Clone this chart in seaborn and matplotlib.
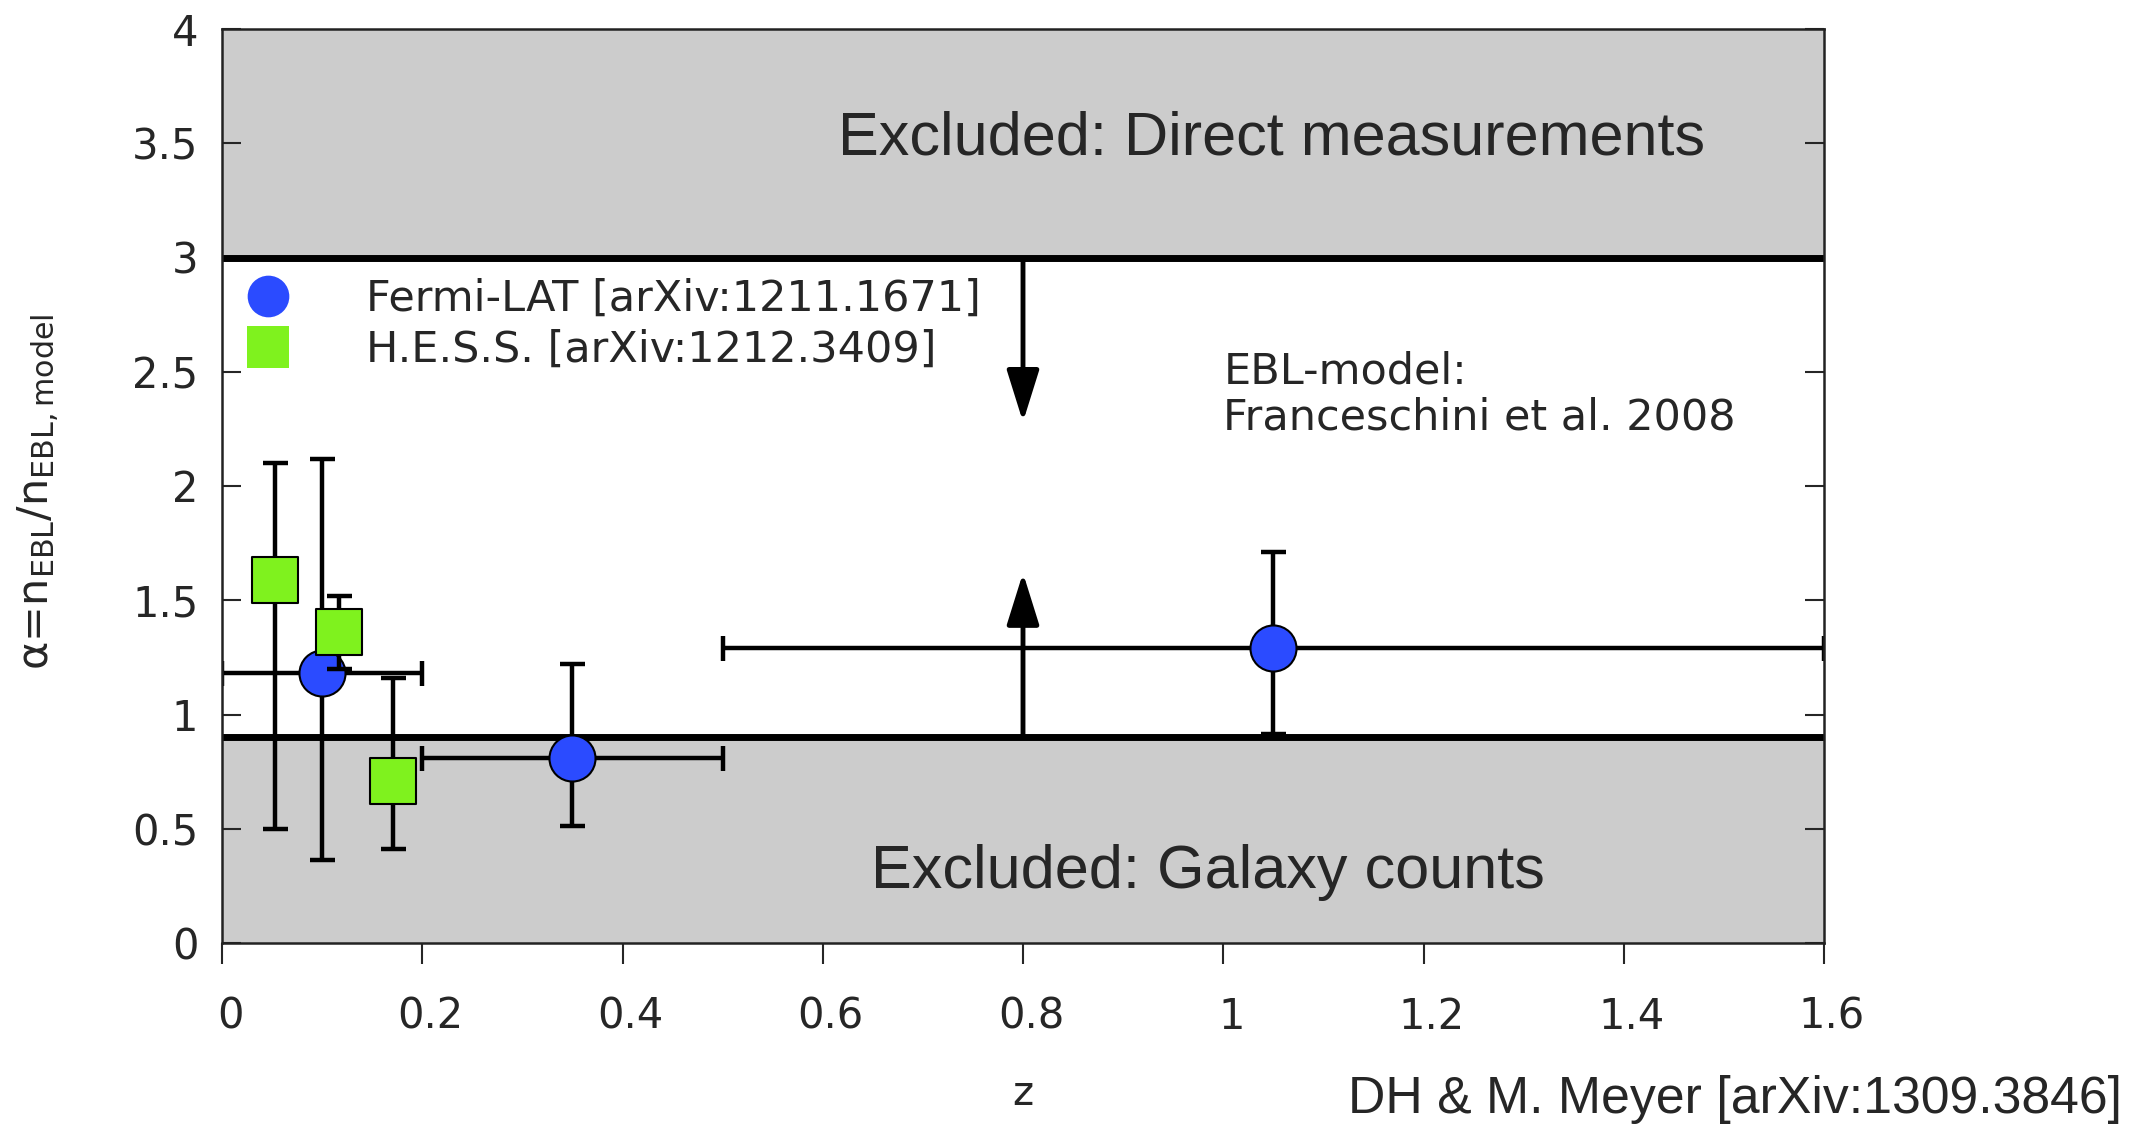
import matplotlib
matplotlib.use("Agg")
import matplotlib.pyplot as plt
import matplotlib.transforms as mtransforms
from matplotlib.lines import Line2D
import numpy as np
import pandas as pd
import seaborn as sns

# ---------------- data ----------------
fermi_z = [0.10, 0.35, 1.05]
fermi_alpha = [1.18, 0.81, 1.29]
fermi_z_lo = [0.0, 0.20, 0.50]
fermi_z_hi = [0.20, 0.50, 1.60]
fermi_alpha_lo = [0.365, 0.51, 0.915]
fermi_alpha_hi = [2.12, 1.22, 1.71]

hess_z = [0.053, 0.117, 0.171]
hess_alpha = [1.59, 1.36, 0.71]
hess_alpha_lo = [0.50, 1.20, 0.41]
hess_alpha_hi = [2.10, 1.52, 1.16]

lower_limit = 0.9
upper_limit = 3.0
arrow_z = 0.8
arrow_down_tip = 2.28
arrow_up_tip = 1.62

x_ticks = [0, 0.2, 0.4, 0.6, 0.8, 1.0, 1.2, 1.4, 1.6]
x_tick_labels = ["0", "0.2", "0.4", "0.6", "0.8", "1", "1.2", "1.4", "1.6"]
y_ticks = [0, 0.5, 1, 1.5, 2, 2.5, 3, 3.5, 4]
y_tick_labels = ["0", "0.5", "1", "1.5", "2", "2.5", "3", "3.5", "4"]

fermi_label = "Fermi-LAT [arXiv:1211.1671]"
hess_label = "H.E.S.S. [arXiv:1212.3409]"

BLUE = "#2b4bff"
GREEN = "#7ff21e"
GRAY = "#cccccc"

# ---------------- style ----------------
sns.set_style("ticks")
plt.rcParams["font.family"] = ["DejaVu Sans"]
plt.rcParams["mathtext.fontset"] = "dejavusans"

fig = plt.figure(figsize=(21.39, 11.27), dpi=100)
ax = fig.add_axes([222 / 2139, 1 - 943 / 1127, 1602 / 2139, 914 / 1127])

ax.set_xlim(0, 1.6)
ax.set_ylim(0, 4)

# excluded regions
ax.axhspan(0, lower_limit, color=GRAY, zorder=0, lw=0)
ax.axhspan(upper_limit, 4, color=GRAY, zorder=0, lw=0)
ax.axhline(lower_limit, color="black", lw=5, zorder=2)
ax.axhline(upper_limit, color="black", lw=5, zorder=2)

# arrows
arrow_kw = dict(arrowstyle="-|>,head_length=3.2,head_width=1.0", color="black",
                lw=3.5, shrinkA=0, shrinkB=0, joinstyle="round", capstyle="butt")
ax.annotate("", xy=(arrow_z, arrow_down_tip), xytext=(arrow_z, upper_limit),
            arrowprops=arrow_kw, zorder=3)
ax.annotate("", xy=(arrow_z, arrow_up_tip), xytext=(arrow_z, lower_limit),
            arrowprops=arrow_kw, zorder=3)

# Fermi
fz = np.array(fermi_z); fa = np.array(fermi_alpha)
xerr = np.vstack([fz - np.array(fermi_z_lo), np.array(fermi_z_hi) - fz])
yerr = np.vstack([fa - np.array(fermi_alpha_lo), np.array(fermi_alpha_hi) - fa])
ax.errorbar(fz, fa, xerr=xerr, yerr=yerr, fmt="none", ecolor="black",
            elinewidth=3.2, capsize=9, capthick=3.2, zorder=3)
df_f = pd.DataFrame({"z": fermi_z, "alpha": fermi_alpha})
sns.scatterplot(data=df_f, x="z", y="alpha", ax=ax, marker="o", s=1100,
                color=BLUE, edgecolor="black", linewidth=1.5, zorder=4, legend=False)

# HESS
hz = np.array(hess_z); ha = np.array(hess_alpha)
yerr_h = np.vstack([ha - np.array(hess_alpha_lo), np.array(hess_alpha_hi) - ha])
ax.errorbar(hz, ha, yerr=yerr_h, fmt="none", ecolor="black",
            elinewidth=3.2, capsize=9, capthick=3.2, zorder=5)
df_h = pd.DataFrame({"z": hess_z, "alpha": hess_alpha})
sns.scatterplot(data=df_h, x="z", y="alpha", ax=ax, marker="s", s=1100,
                color=GREEN, edgecolor="black", linewidth=1.5, zorder=6, legend=False)

# texts
ax.text(1.048, 3.52, "Excluded: Direct measurements", ha="center", va="center",
        fontsize=44, family=["Liberation Sans", "DejaVu Sans"], zorder=7)
ax.text(0.985, 0.31, "Excluded: Galaxy counts", ha="center", va="center",
        fontsize=44, family=["Liberation Sans", "DejaVu Sans"], zorder=7)
ax.text(1.0, 2.50, "EBL-model:", ha="left", va="center", fontsize=31, zorder=7)
ax.text(1.0, 2.30, "Franceschini et al. 2008", ha="left", va="center", fontsize=31, zorder=7)

# legend
handles = [Line2D([], [], ls="none", marker="o", ms=30, mfc=BLUE, mec=BLUE, mew=0),
           Line2D([], [], ls="none", marker="s", ms=30, mfc=GREEN, mec=GREEN, mew=0)]
leg = ax.legend(handles, [fermi_label, hess_label], loc="upper left",
                bbox_to_anchor=(0.0153, 0.728), frameon=False, fontsize=31,
                handlelength=1.0, handletextpad=1.78, borderpad=0, borderaxespad=0,
                labelspacing=0.21)
leg.set_zorder(8)

# axes / ticks
ax.set_xticks(x_ticks)
ax.set_xticklabels(x_tick_labels)
ax.set_yticks(y_ticks)
ax.set_yticklabels(y_tick_labels)
ax.tick_params(axis="x", direction="out", length=15, width=1.5, labelsize=30, pad=23,
               bottom=True, top=False)
ax.tick_params(axis="y", direction="in", length=14, width=1.5, labelsize=30, pad=17,
               left=True, right=True)
shift = mtransforms.ScaledTranslation(8 / 100, 0, fig.dpi_scale_trans)
for lab in ax.get_xticklabels():
    lab.set_transform(lab.get_transform() + shift)
for sp in ax.spines.values():
    sp.set_visible(True)
    sp.set_linewidth(1.8)
    sp.set_color("#222222")
    sp.set_zorder(9)

ax.set_xlabel("z", fontsize=29, labelpad=26)
ax.set_ylabel("α=n$_{\\mathrm{EBL}}$/n$_{\\mathrm{EBL,model}}$", fontsize=31)
ax.yaxis.set_label_coords(-0.1, 0.494)

fig.text(2122 / 2139, 1 - 1100 / 1127, "DH & M. Meyer [arXiv:1309.3846]", ha="right",
         va="center", fontsize=37.3, family=["Liberation Sans", "DejaVu Sans"])

fig.savefig("out.png", dpi=100)
